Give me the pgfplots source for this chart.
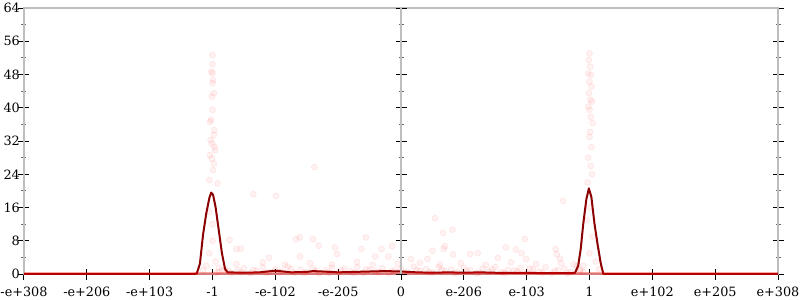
\documentclass[border=0pt]{standalone}
\usepackage{fontspec}
\setmainfont{DejaVu Serif}
\usepackage{pgfplots}
\pgfplotsset{compat=1.18}
\definecolor{axgray}{RGB}{190,190,190}
\definecolor{linered}{RGB}{139,0,0}
\pgfplotsset{
  mystyle/.style={
    scale only axis, width=565.5pt, height=199.5pt,
    xmin=-6, xmax=6, ymin=0, ymax=64,
    tick align=center,
    major tick length=8.25pt, minor tick length=3.75pt,
    major tick style={black, line width=0.75pt},
    minor tick style={black!60, line width=0.6pt},
    axis line style={axgray, line width=1.5pt, -},
    ytick={0,8,...,64}, minor ytick={4,12,...,60},
    tick label style={font=\fontsize{9.6}{11}\selectfont},
    yticklabel style={xshift=4.5pt},
    xticklabel style={yshift=-2pt},
    /pgf/number format/assume math mode=true,
  },
  dots/.style={only marks, mark=*, mark size=2.25pt,
    mark options={fill=red, draw=red, fill opacity=0.05, draw opacity=0.08, line width=0.5pt}},
}
\begin{document}
\begin{tikzpicture}
\begin{axis}[mystyle,
  xtick={-6,-5,-4,-3,-2,-1,0,1,2,3,4,5,6},
  xticklabels={-e+308,-e+206,-e+103,-1,-e-102,-e-205,0,e-206,e-103,1,e+102,e+205,e+308},
  xtick pos=bottom, ytick pos=both, yticklabel pos=left,
  clip=true]
% density curve
\addplot[linered, line width=1.5pt, line join=round] coordinates {
(-6,0) (-3.30,0) (-3.25,0.1) (-3.20,2.5) (-3.15,9.5) (-3.10,14.5) (-3.05,18.3) (-3.02,19.6)
(-2.99,19.0) (-2.95,16.0) (-2.90,10.5) (-2.85,5.0) (-2.80,1.2) (-2.76,0.4)
(-2.5,0.3) (-2.25,0.4) (-2.0,0.8) (-1.75,0.4) (-1.5,0.5) (-1.4,0.7) (-1.25,0.6) (-1.0,0.4)
(-0.75,0.5) (-0.5,0.6) (-0.25,0.7) (0,0.6) (0.25,0.4) (0.5,0.3) (0.75,0.4) (1.0,0.3)
(1.25,0.4) (1.5,0.3) (1.75,0.3) (2.0,0.3) (2.25,0.2) (2.5,0.2) (2.7,0.2)
(2.77,0.3) (2.82,2.0) (2.86,6.0) (2.90,12.0) (2.95,18.0) (2.99,20.6) (3.03,18.5)
(3.08,12.0) (3.13,7.0) (3.18,2.5) (3.22,0) (6,0)
};
% dense points on zero
\addplot[red, line width=3pt, opacity=0.35] coordinates {(-6,0) (6,0)};
% baseline band
\addplot[dots] coordinates {
(-2.9,0.5)(-2.8,1.2)(-2.7,0.3)(-2.6,0.9)(-2.5,1.4)(-2.4,0.2)(-2.3,0.8)(-2.2,1.6)(-2.1,0.4)(-2.0,1.1)
(-1.9,0.6)(-1.8,1.8)(-1.7,0.3)(-1.6,1.0)(-1.5,0.5)(-1.4,1.3)(-1.3,0.2)(-1.2,0.9)(-1.1,1.5)(-1.0,0.4)
(-0.9,1.2)(-0.8,0.7)(-0.7,1.7)(-0.6,0.3)(-0.5,1.0)(-0.4,0.6)(-0.3,1.4)(-0.2,0.2)(-0.1,0.9)(0.0,1.3)
(0.1,0.5)(0.2,1.8)(0.3,0.8)(0.4,1.2)(0.5,0.3)(0.6,1.6)(0.7,0.7)(0.8,1.1)(0.9,0.4)(1.0,1.5)
(1.1,0.9)(1.2,0.2)(1.3,1.3)(1.4,0.6)(1.5,1.7)(1.6,0.4)(1.7,1.0)(1.8,0.8)(1.9,1.4)(2.0,0.3)
(2.1,1.1)(2.2,0.6)(2.3,1.6)(2.4,0.2)(2.5,0.9)(2.6,1.3)(2.7,0.5)(2.8,1.9)(2.9,0.4)
(-2.95,0.2)(-2.75,0.7)(-2.55,0.4)(-2.35,1.0)(-2.15,0.3)(-1.95,0.5)(-1.75,1.2)(-1.55,0.2)(-1.35,0.8)
(-1.15,0.3)(-0.95,0.9)(-0.75,0.2)(-0.55,1.1)(-0.35,0.4)(-0.15,0.6)(0.05,0.2)(0.25,0.9)(0.45,0.4)
(0.65,1.0)(0.85,0.2)(1.05,0.7)(1.25,0.4)(1.45,1.1)(1.65,0.2)(1.85,0.6)(2.05,1.3)(2.25,0.3)(2.45,0.7)
(2.65,0.2)(2.85,0.6)
(-2.62,2.4)(-2.2,2.8)(-1.85,2.2)(-1.45,2.6)(-1.1,2.3)(-0.7,2.9)(-0.45,2.2)(-0.05,2.5)
(0.3,2.7)(0.62,2.3)(0.95,2.6)(1.35,2.2)(1.75,2.8)(2.15,2.4)(2.55,2.6)(2.75,2.3)
};
% scattered points
\addplot[dots] coordinates {
(-2.73,8.2)(-2.62,6.0)(-2.55,6.1)(-2.35,19.2)(-2.1,3.9)(-1.99,18.8)(-1.67,8.4)(-1.61,8.8)
(-1.61,4.2)(-1.40,8.4)(-1.38,25.7)(-1.31,6.8)(-1.05,6.4)(-1.02,4.8)(-0.63,6.0)(-0.56,8.8)
(-0.41,4.2)(-0.31,6.0)(-0.2,4.2)(-0.14,6.7)(0.16,3.6)(0.42,3.6)(0.5,5.6)(0.54,13.4)
(0.67,9.9)(0.68,6.1)(0.70,6.7)(0.82,10.7)(0.83,4.7)(1.1,4.8)(1.22,5.0)(1.54,3.9)
(1.67,6.4)(1.83,5.9)(1.92,5.0)(1.97,8.4)(1.99,3.6)(2.46,6.0)(2.48,4.8)(2.53,3.7)(2.58,17.6)
(-3.1,2.0)(-3.05,5.0)(-3.0,8.0)(-2.95,3.0)(-3.0,12.0)(-2.9,1.5)(-3.15,1.0)(-2.85,0.8)(-3.05,15.0)
(2.9,2.0)(3.0,5.0)(3.05,9.0)(2.95,13.0)(3.1,3.0)(3.0,16.0)(2.85,1.0)(3.15,1.2)
};
% columns above peaks
\addplot[dots] coordinates {
(-3.0,52.7)(-3.0,50.5)(-3.02,48.7)(-3.0,48.3)(-2.99,46.7)(-3.0,45.9)(-2.98,43.5)(-3.01,42.7)
(-3.0,39.5)(-3.02,37.1)(-3.04,36.6)(-2.97,34.6)(-2.98,33.4)(-3.03,32.2)(-3.01,31.4)(-2.97,30.6)
(-2.96,29.8)(-3.04,28.6)(-3.01,27.8)(-2.98,26.6)(-2.99,25.0)(-3.05,22.6)(-2.92,21.8)
(3.0,53.1)(2.99,51.5)(3.01,49.9)(2.98,48.3)(3.02,47.9)(3.0,46.3)(3.03,45.1)(2.99,43.5)
(3.01,41.9)(3.04,41.5)(2.98,40.3)(3.0,39.5)(3.02,37.8)(3.05,36.3)(3.01,34.2)(3.0,33.0)
(3.03,30.5)(2.98,28.0)(3.02,26.0)(3.04,24.0)(2.97,22.0)
};
\end{axis}
\begin{axis}[mystyle, axis x line=none, axis y line=middle,
  every inner y axis line/.append style={-},
  y axis line style={-},
  yticklabels={}, xtick=\empty]
\end{axis}
\pgfresetboundingbox
\path (-18pt,-19.5pt) rectangle (582pt,205.5pt);
\end{tikzpicture}
\end{document}
